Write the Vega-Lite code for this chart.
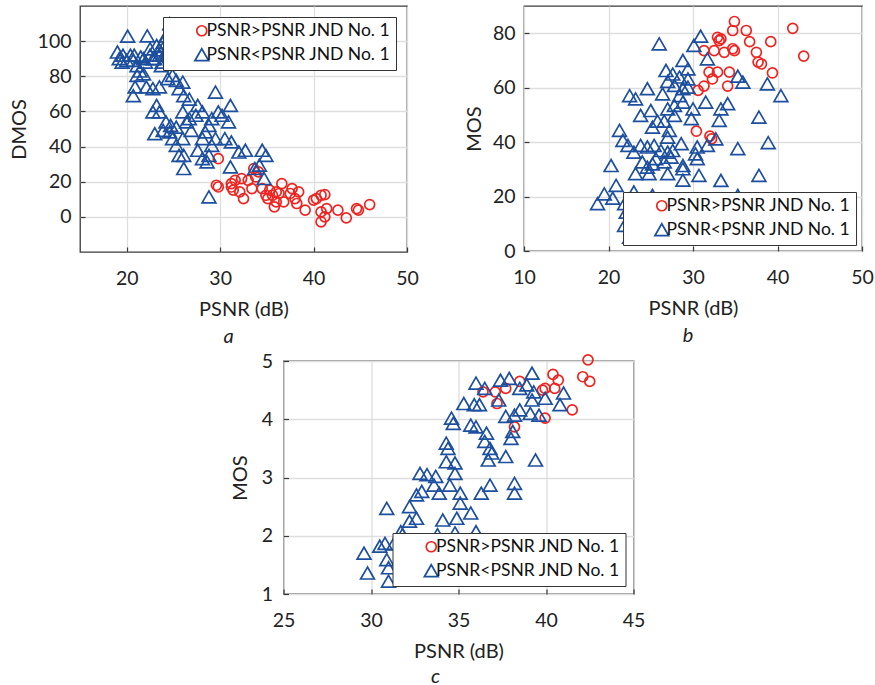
{
  "$schema": "https://vega.github.io/schema/vega-lite/v6.json",
  "padding": {"left": 8, "top": 5, "right": 5, "bottom": 0},
  "background": "white",
  "datasets": {
    "panelA": [
      {"psnr": 29.8, "score": 33.1, "group": "PSNR>PSNR JND No. 1"},
      {"psnr": 29.6, "score": 18, "group": "PSNR>PSNR JND No. 1"},
      {"psnr": 29.8, "score": 17, "group": "PSNR>PSNR JND No. 1"},
      {"psnr": 31.2, "score": 18.9, "group": "PSNR>PSNR JND No. 1"},
      {"psnr": 31.4, "score": 15.2, "group": "PSNR>PSNR JND No. 1"},
      {"psnr": 31.6, "score": 20.8, "group": "PSNR>PSNR JND No. 1"},
      {"psnr": 32.3, "score": 21.8, "group": "PSNR>PSNR JND No. 1"},
      {"psnr": 32.5, "score": 10.4, "group": "PSNR>PSNR JND No. 1"},
      {"psnr": 32.1, "score": 14.2, "group": "PSNR>PSNR JND No. 1"},
      {"psnr": 33.0, "score": 20.8, "group": "PSNR>PSNR JND No. 1"},
      {"psnr": 33.4, "score": 16.1, "group": "PSNR>PSNR JND No. 1"},
      {"psnr": 33.6, "score": 27.5, "group": "PSNR>PSNR JND No. 1"},
      {"psnr": 34.1, "score": 25.6, "group": "PSNR>PSNR JND No. 1"},
      {"psnr": 34.5, "score": 16.1, "group": "PSNR>PSNR JND No. 1"},
      {"psnr": 34.9, "score": 12.3, "group": "PSNR>PSNR JND No. 1"},
      {"psnr": 35.1, "score": 10.4, "group": "PSNR>PSNR JND No. 1"},
      {"psnr": 35.3, "score": 15.2, "group": "PSNR>PSNR JND No. 1"},
      {"psnr": 35.6, "score": 12.3, "group": "PSNR>PSNR JND No. 1"},
      {"psnr": 35.8, "score": 5.7, "group": "PSNR>PSNR JND No. 1"},
      {"psnr": 36.0, "score": 8.5, "group": "PSNR>PSNR JND No. 1"},
      {"psnr": 36.3, "score": 13.3, "group": "PSNR>PSNR JND No. 1"},
      {"psnr": 36.6, "score": 18.9, "group": "PSNR>PSNR JND No. 1"},
      {"psnr": 36.8, "score": 8.5, "group": "PSNR>PSNR JND No. 1"},
      {"psnr": 37.5, "score": 13.3, "group": "PSNR>PSNR JND No. 1"},
      {"psnr": 38.0, "score": 10.4, "group": "PSNR>PSNR JND No. 1"},
      {"psnr": 38.2, "score": 7.6, "group": "PSNR>PSNR JND No. 1"},
      {"psnr": 38.4, "score": 14.2, "group": "PSNR>PSNR JND No. 1"},
      {"psnr": 39.1, "score": 3.8, "group": "PSNR>PSNR JND No. 1"},
      {"psnr": 40.0, "score": 9.5, "group": "PSNR>PSNR JND No. 1"},
      {"psnr": 40.3, "score": 10.4, "group": "PSNR>PSNR JND No. 1"},
      {"psnr": 40.8, "score": 12.3, "group": "PSNR>PSNR JND No. 1"},
      {"psnr": 41.2, "score": 12.7, "group": "PSNR>PSNR JND No. 1"},
      {"psnr": 40.8, "score": 2.8, "group": "PSNR>PSNR JND No. 1"},
      {"psnr": 40.8, "score": -2.8, "group": "PSNR>PSNR JND No. 1"},
      {"psnr": 41.2, "score": 0, "group": "PSNR>PSNR JND No. 1"},
      {"psnr": 41.4, "score": 4.7, "group": "PSNR>PSNR JND No. 1"},
      {"psnr": 42.6, "score": 3.8, "group": "PSNR>PSNR JND No. 1"},
      {"psnr": 43.5, "score": -0.6, "group": "PSNR>PSNR JND No. 1"},
      {"psnr": 44.6, "score": 4.7, "group": "PSNR>PSNR JND No. 1"},
      {"psnr": 44.8, "score": 3.8, "group": "PSNR>PSNR JND No. 1"},
      {"psnr": 46.0, "score": 7, "group": "PSNR>PSNR JND No. 1"},
      {"psnr": 37.7, "score": 16.1, "group": "PSNR>PSNR JND No. 1"},
      {"psnr": 36.0, "score": 14.2, "group": "PSNR>PSNR JND No. 1"},
      {"psnr": 31.2, "score": 17, "group": "PSNR>PSNR JND No. 1"},
      {"psnr": 33.8, "score": 22.7, "group": "PSNR>PSNR JND No. 1"},
      {"psnr": 20.1, "score": 102.8, "group": "PSNR<PSNR JND No. 1"},
      {"psnr": 22.2, "score": 103, "group": "PSNR<PSNR JND No. 1"},
      {"psnr": 24.6, "score": 110, "group": "PSNR<PSNR JND No. 1"},
      {"psnr": 19.0, "score": 93.8, "group": "PSNR<PSNR JND No. 1"},
      {"psnr": 19.2, "score": 90, "group": "PSNR<PSNR JND No. 1"},
      {"psnr": 19.6, "score": 92, "group": "PSNR<PSNR JND No. 1"},
      {"psnr": 20.4, "score": 92, "group": "PSNR<PSNR JND No. 1"},
      {"psnr": 20.7, "score": 89, "group": "PSNR<PSNR JND No. 1"},
      {"psnr": 21.1, "score": 86, "group": "PSNR<PSNR JND No. 1"},
      {"psnr": 21.4, "score": 83, "group": "PSNR<PSNR JND No. 1"},
      {"psnr": 21.8, "score": 90, "group": "PSNR<PSNR JND No. 1"},
      {"psnr": 22.5, "score": 95.6, "group": "PSNR<PSNR JND No. 1"},
      {"psnr": 23.2, "score": 97.5, "group": "PSNR<PSNR JND No. 1"},
      {"psnr": 23.9, "score": 99.4, "group": "PSNR<PSNR JND No. 1"},
      {"psnr": 24.2, "score": 103, "group": "PSNR<PSNR JND No. 1"},
      {"psnr": 23.5, "score": 92, "group": "PSNR<PSNR JND No. 1"},
      {"psnr": 22.8, "score": 90, "group": "PSNR<PSNR JND No. 1"},
      {"psnr": 24.2, "score": 93.8, "group": "PSNR<PSNR JND No. 1"},
      {"psnr": 24.6, "score": 95.6, "group": "PSNR<PSNR JND No. 1"},
      {"psnr": 23.7, "score": 86, "group": "PSNR<PSNR JND No. 1"},
      {"psnr": 23.0, "score": 90, "group": "PSNR<PSNR JND No. 1"},
      {"psnr": 23.5, "score": 95, "group": "PSNR<PSNR JND No. 1"},
      {"psnr": 24.0, "score": 97, "group": "PSNR<PSNR JND No. 1"},
      {"psnr": 24.5, "score": 92, "group": "PSNR<PSNR JND No. 1"},
      {"psnr": 22.5, "score": 92, "group": "PSNR<PSNR JND No. 1"},
      {"psnr": 23.8, "score": 88, "group": "PSNR<PSNR JND No. 1"},
      {"psnr": 24.9, "score": 100, "group": "PSNR<PSNR JND No. 1"},
      {"psnr": 22.0, "score": 88, "group": "PSNR<PSNR JND No. 1"},
      {"psnr": 21.5, "score": 91, "group": "PSNR<PSNR JND No. 1"},
      {"psnr": 20.0, "score": 89, "group": "PSNR<PSNR JND No. 1"},
      {"psnr": 19.5, "score": 88, "group": "PSNR<PSNR JND No. 1"},
      {"psnr": 20.8, "score": 92, "group": "PSNR<PSNR JND No. 1"},
      {"psnr": 21.1, "score": 80.5, "group": "PSNR<PSNR JND No. 1"},
      {"psnr": 21.8, "score": 81.4, "group": "PSNR<PSNR JND No. 1"},
      {"psnr": 20.9, "score": 73.9, "group": "PSNR<PSNR JND No. 1"},
      {"psnr": 20.7, "score": 69, "group": "PSNR<PSNR JND No. 1"},
      {"psnr": 22.1, "score": 73.9, "group": "PSNR<PSNR JND No. 1"},
      {"psnr": 22.8, "score": 73, "group": "PSNR<PSNR JND No. 1"},
      {"psnr": 23.5, "score": 74, "group": "PSNR<PSNR JND No. 1"},
      {"psnr": 24.4, "score": 78.6, "group": "PSNR<PSNR JND No. 1"},
      {"psnr": 24.9, "score": 80.5, "group": "PSNR<PSNR JND No. 1"},
      {"psnr": 25.3, "score": 77.7, "group": "PSNR<PSNR JND No. 1"},
      {"psnr": 26.0, "score": 76.7, "group": "PSNR<PSNR JND No. 1"},
      {"psnr": 25.6, "score": 73, "group": "PSNR<PSNR JND No. 1"},
      {"psnr": 26.1, "score": 69, "group": "PSNR<PSNR JND No. 1"},
      {"psnr": 26.7, "score": 67, "group": "PSNR<PSNR JND No. 1"},
      {"psnr": 29.5, "score": 71, "group": "PSNR<PSNR JND No. 1"},
      {"psnr": 27.6, "score": 63.4, "group": "PSNR<PSNR JND No. 1"},
      {"psnr": 28.1, "score": 59.7, "group": "PSNR<PSNR JND No. 1"},
      {"psnr": 27.4, "score": 57.8, "group": "PSNR<PSNR JND No. 1"},
      {"psnr": 26.0, "score": 59.7, "group": "PSNR<PSNR JND No. 1"},
      {"psnr": 26.4, "score": 54, "group": "PSNR<PSNR JND No. 1"},
      {"psnr": 25.3, "score": 51, "group": "PSNR<PSNR JND No. 1"},
      {"psnr": 24.7, "score": 52, "group": "PSNR<PSNR JND No. 1"},
      {"psnr": 24.6, "score": 48.3, "group": "PSNR<PSNR JND No. 1"},
      {"psnr": 24.9, "score": 44.5, "group": "PSNR<PSNR JND No. 1"},
      {"psnr": 25.3, "score": 40.7, "group": "PSNR<PSNR JND No. 1"},
      {"psnr": 26.0, "score": 44.5, "group": "PSNR<PSNR JND No. 1"},
      {"psnr": 22.8, "score": 59.7, "group": "PSNR<PSNR JND No. 1"},
      {"psnr": 23.2, "score": 63.4, "group": "PSNR<PSNR JND No. 1"},
      {"psnr": 23.5, "score": 59.7, "group": "PSNR<PSNR JND No. 1"},
      {"psnr": 23.0, "score": 47.3, "group": "PSNR<PSNR JND No. 1"},
      {"psnr": 23.9, "score": 49.2, "group": "PSNR<PSNR JND No. 1"},
      {"psnr": 24.2, "score": 54, "group": "PSNR<PSNR JND No. 1"},
      {"psnr": 25.6, "score": 35, "group": "PSNR<PSNR JND No. 1"},
      {"psnr": 26.1, "score": 35, "group": "PSNR<PSNR JND No. 1"},
      {"psnr": 26.1, "score": 27.5, "group": "PSNR<PSNR JND No. 1"},
      {"psnr": 27.6, "score": 37.9, "group": "PSNR<PSNR JND No. 1"},
      {"psnr": 28.1, "score": 33.1, "group": "PSNR<PSNR JND No. 1"},
      {"psnr": 28.6, "score": 31.3, "group": "PSNR<PSNR JND No. 1"},
      {"psnr": 28.8, "score": 35, "group": "PSNR<PSNR JND No. 1"},
      {"psnr": 29.1, "score": 40.7, "group": "PSNR<PSNR JND No. 1"},
      {"psnr": 29.5, "score": 44.5, "group": "PSNR<PSNR JND No. 1"},
      {"psnr": 28.4, "score": 48.3, "group": "PSNR<PSNR JND No. 1"},
      {"psnr": 28.8, "score": 52, "group": "PSNR<PSNR JND No. 1"},
      {"psnr": 29.1, "score": 55.9, "group": "PSNR<PSNR JND No. 1"},
      {"psnr": 29.8, "score": 59.7, "group": "PSNR<PSNR JND No. 1"},
      {"psnr": 30.2, "score": 57.8, "group": "PSNR<PSNR JND No. 1"},
      {"psnr": 30.9, "score": 54, "group": "PSNR<PSNR JND No. 1"},
      {"psnr": 31.1, "score": 63.4, "group": "PSNR<PSNR JND No. 1"},
      {"psnr": 30.5, "score": 44.5, "group": "PSNR<PSNR JND No. 1"},
      {"psnr": 31.2, "score": 42.6, "group": "PSNR<PSNR JND No. 1"},
      {"psnr": 28.8, "score": 11.4, "group": "PSNR<PSNR JND No. 1"},
      {"psnr": 31.1, "score": 28.4, "group": "PSNR<PSNR JND No. 1"},
      {"psnr": 32.0, "score": 36.9, "group": "PSNR<PSNR JND No. 1"},
      {"psnr": 32.7, "score": 37.9, "group": "PSNR<PSNR JND No. 1"},
      {"psnr": 33.7, "score": 27.5, "group": "PSNR<PSNR JND No. 1"},
      {"psnr": 34.5, "score": 37.9, "group": "PSNR<PSNR JND No. 1"},
      {"psnr": 34.9, "score": 35, "group": "PSNR<PSNR JND No. 1"},
      {"psnr": 34.7, "score": 21.8, "group": "PSNR<PSNR JND No. 1"},
      {"psnr": 34.2, "score": 29.4, "group": "PSNR<PSNR JND No. 1"},
      {"psnr": 28.1, "score": 44.5, "group": "PSNR<PSNR JND No. 1"},
      {"psnr": 26.7, "score": 55.9, "group": "PSNR<PSNR JND No. 1"},
      {"psnr": 26.9, "score": 49.2, "group": "PSNR<PSNR JND No. 1"}
    ],
    "panelB": [
      {"psnr": 34.9, "score": 84.3, "group": "PSNR>PSNR JND No. 1"},
      {"psnr": 34.7, "score": 81, "group": "PSNR>PSNR JND No. 1"},
      {"psnr": 36.3, "score": 81, "group": "PSNR>PSNR JND No. 1"},
      {"psnr": 36.7, "score": 76.9, "group": "PSNR>PSNR JND No. 1"},
      {"psnr": 41.8, "score": 81.8, "group": "PSNR>PSNR JND No. 1"},
      {"psnr": 39.2, "score": 76.9, "group": "PSNR>PSNR JND No. 1"},
      {"psnr": 43.1, "score": 71.6, "group": "PSNR>PSNR JND No. 1"},
      {"psnr": 32.9, "score": 78.5, "group": "PSNR>PSNR JND No. 1"},
      {"psnr": 33.3, "score": 77.9, "group": "PSNR>PSNR JND No. 1"},
      {"psnr": 33.1, "score": 77.3, "group": "PSNR>PSNR JND No. 1"},
      {"psnr": 31.3, "score": 73.6, "group": "PSNR>PSNR JND No. 1"},
      {"psnr": 32.5, "score": 73.6, "group": "PSNR>PSNR JND No. 1"},
      {"psnr": 33.7, "score": 73, "group": "PSNR>PSNR JND No. 1"},
      {"psnr": 34.7, "score": 74.3, "group": "PSNR>PSNR JND No. 1"},
      {"psnr": 34.9, "score": 73.6, "group": "PSNR>PSNR JND No. 1"},
      {"psnr": 37.5, "score": 73, "group": "PSNR>PSNR JND No. 1"},
      {"psnr": 37.7, "score": 69.4, "group": "PSNR>PSNR JND No. 1"},
      {"psnr": 38.1, "score": 68.7, "group": "PSNR>PSNR JND No. 1"},
      {"psnr": 39.4, "score": 65.4, "group": "PSNR>PSNR JND No. 1"},
      {"psnr": 31.9, "score": 65.7, "group": "PSNR>PSNR JND No. 1"},
      {"psnr": 32.9, "score": 65.7, "group": "PSNR>PSNR JND No. 1"},
      {"psnr": 34.3, "score": 65.7, "group": "PSNR>PSNR JND No. 1"},
      {"psnr": 32.3, "score": 63.2, "group": "PSNR>PSNR JND No. 1"},
      {"psnr": 31.3, "score": 60.6, "group": "PSNR>PSNR JND No. 1"},
      {"psnr": 30.6, "score": 59, "group": "PSNR>PSNR JND No. 1"},
      {"psnr": 34.1, "score": 60.6, "group": "PSNR>PSNR JND No. 1"},
      {"psnr": 30.4, "score": 44, "group": "PSNR>PSNR JND No. 1"},
      {"psnr": 32.0, "score": 42.2, "group": "PSNR>PSNR JND No. 1"},
      {"psnr": 32.2, "score": 41.2, "group": "PSNR>PSNR JND No. 1"},
      {"psnr": 26.0, "score": 76.1, "group": "PSNR<PSNR JND No. 1"},
      {"psnr": 30.9, "score": 78.9, "group": "PSNR<PSNR JND No. 1"},
      {"psnr": 30.1, "score": 75.5, "group": "PSNR<PSNR JND No. 1"},
      {"psnr": 31.7, "score": 70.6, "group": "PSNR<PSNR JND No. 1"},
      {"psnr": 28.8, "score": 70, "group": "PSNR<PSNR JND No. 1"},
      {"psnr": 26.8, "score": 66.3, "group": "PSNR<PSNR JND No. 1"},
      {"psnr": 27.6, "score": 65, "group": "PSNR<PSNR JND No. 1"},
      {"psnr": 29.4, "score": 66.9, "group": "PSNR<PSNR JND No. 1"},
      {"psnr": 28.4, "score": 63.9, "group": "PSNR<PSNR JND No. 1"},
      {"psnr": 27.0, "score": 62.3, "group": "PSNR<PSNR JND No. 1"},
      {"psnr": 27.8, "score": 60.8, "group": "PSNR<PSNR JND No. 1"},
      {"psnr": 29.4, "score": 63.2, "group": "PSNR<PSNR JND No. 1"},
      {"psnr": 26.4, "score": 57.7, "group": "PSNR<PSNR JND No. 1"},
      {"psnr": 24.6, "score": 59.6, "group": "PSNR<PSNR JND No. 1"},
      {"psnr": 22.5, "score": 57.1, "group": "PSNR<PSNR JND No. 1"},
      {"psnr": 23.2, "score": 55.9, "group": "PSNR<PSNR JND No. 1"},
      {"psnr": 23.8, "score": 49.8, "group": "PSNR<PSNR JND No. 1"},
      {"psnr": 25.0, "score": 51.6, "group": "PSNR<PSNR JND No. 1"},
      {"psnr": 25.2, "score": 45.5, "group": "PSNR<PSNR JND No. 1"},
      {"psnr": 27.0, "score": 52.2, "group": "PSNR<PSNR JND No. 1"},
      {"psnr": 27.8, "score": 49.8, "group": "PSNR<PSNR JND No. 1"},
      {"psnr": 28.8, "score": 54.7, "group": "PSNR<PSNR JND No. 1"},
      {"psnr": 30.0, "score": 52.2, "group": "PSNR<PSNR JND No. 1"},
      {"psnr": 29.8, "score": 48.6, "group": "PSNR<PSNR JND No. 1"},
      {"psnr": 31.5, "score": 54.7, "group": "PSNR<PSNR JND No. 1"},
      {"psnr": 33.3, "score": 52.2, "group": "PSNR<PSNR JND No. 1"},
      {"psnr": 34.1, "score": 54.1, "group": "PSNR<PSNR JND No. 1"},
      {"psnr": 33.1, "score": 48, "group": "PSNR<PSNR JND No. 1"},
      {"psnr": 35.3, "score": 64.2, "group": "PSNR<PSNR JND No. 1"},
      {"psnr": 35.9, "score": 62, "group": "PSNR<PSNR JND No. 1"},
      {"psnr": 38.8, "score": 61.4, "group": "PSNR<PSNR JND No. 1"},
      {"psnr": 40.4, "score": 57.1, "group": "PSNR<PSNR JND No. 1"},
      {"psnr": 37.8, "score": 49.2, "group": "PSNR<PSNR JND No. 1"},
      {"psnr": 38.9, "score": 39.8, "group": "PSNR<PSNR JND No. 1"},
      {"psnr": 35.3, "score": 37.6, "group": "PSNR<PSNR JND No. 1"},
      {"psnr": 37.8, "score": 27.8, "group": "PSNR<PSNR JND No. 1"},
      {"psnr": 33.3, "score": 25.9, "group": "PSNR<PSNR JND No. 1"},
      {"psnr": 30.7, "score": 27.8, "group": "PSNR<PSNR JND No. 1"},
      {"psnr": 32.7, "score": 41.2, "group": "PSNR<PSNR JND No. 1"},
      {"psnr": 31.7, "score": 38.8, "group": "PSNR<PSNR JND No. 1"},
      {"psnr": 30.5, "score": 38.2, "group": "PSNR<PSNR JND No. 1"},
      {"psnr": 30.3, "score": 35.7, "group": "PSNR<PSNR JND No. 1"},
      {"psnr": 30.5, "score": 33.9, "group": "PSNR<PSNR JND No. 1"},
      {"psnr": 28.8, "score": 31.4, "group": "PSNR<PSNR JND No. 1"},
      {"psnr": 28.8, "score": 30.2, "group": "PSNR<PSNR JND No. 1"},
      {"psnr": 28.8, "score": 26, "group": "PSNR<PSNR JND No. 1"},
      {"psnr": 27.0, "score": 28.4, "group": "PSNR<PSNR JND No. 1"},
      {"psnr": 28.6, "score": 39.4, "group": "PSNR<PSNR JND No. 1"},
      {"psnr": 27.0, "score": 41.8, "group": "PSNR<PSNR JND No. 1"},
      {"psnr": 27.6, "score": 36.9, "group": "PSNR<PSNR JND No. 1"},
      {"psnr": 26.2, "score": 36.9, "group": "PSNR<PSNR JND No. 1"},
      {"psnr": 25.4, "score": 38.8, "group": "PSNR<PSNR JND No. 1"},
      {"psnr": 24.6, "score": 38.2, "group": "PSNR<PSNR JND No. 1"},
      {"psnr": 23.8, "score": 38.8, "group": "PSNR<PSNR JND No. 1"},
      {"psnr": 23.0, "score": 36.3, "group": "PSNR<PSNR JND No. 1"},
      {"psnr": 24.0, "score": 32.7, "group": "PSNR<PSNR JND No. 1"},
      {"psnr": 24.6, "score": 30.8, "group": "PSNR<PSNR JND No. 1"},
      {"psnr": 24.8, "score": 28.4, "group": "PSNR<PSNR JND No. 1"},
      {"psnr": 25.2, "score": 32, "group": "PSNR<PSNR JND No. 1"},
      {"psnr": 25.6, "score": 33.9, "group": "PSNR<PSNR JND No. 1"},
      {"psnr": 26.6, "score": 32.7, "group": "PSNR<PSNR JND No. 1"},
      {"psnr": 23.2, "score": 28.4, "group": "PSNR<PSNR JND No. 1"},
      {"psnr": 23.0, "score": 21.7, "group": "PSNR<PSNR JND No. 1"},
      {"psnr": 21.3, "score": 44.3, "group": "PSNR<PSNR JND No. 1"},
      {"psnr": 21.7, "score": 40.6, "group": "PSNR<PSNR JND No. 1"},
      {"psnr": 22.3, "score": 38.8, "group": "PSNR<PSNR JND No. 1"},
      {"psnr": 20.3, "score": 31.4, "group": "PSNR<PSNR JND No. 1"},
      {"psnr": 20.9, "score": 24.1, "group": "PSNR<PSNR JND No. 1"},
      {"psnr": 19.5, "score": 21, "group": "PSNR<PSNR JND No. 1"},
      {"psnr": 18.7, "score": 17.4, "group": "PSNR<PSNR JND No. 1"},
      {"psnr": 20.5, "score": 19.4, "group": "PSNR<PSNR JND No. 1"},
      {"psnr": 21.9, "score": 17.4, "group": "PSNR<PSNR JND No. 1"},
      {"psnr": 22.1, "score": 14.3, "group": "PSNR<PSNR JND No. 1"},
      {"psnr": 21.9, "score": 9.4, "group": "PSNR<PSNR JND No. 1"},
      {"psnr": 22.5, "score": 5.1, "group": "PSNR<PSNR JND No. 1"},
      {"psnr": 25.2, "score": 20.4, "group": "PSNR<PSNR JND No. 1"},
      {"psnr": 35.3, "score": 20.4, "group": "PSNR<PSNR JND No. 1"},
      {"psnr": 25.8, "score": 47.7, "group": "PSNR<PSNR JND No. 1"},
      {"psnr": 26.6, "score": 47.7, "group": "PSNR<PSNR JND No. 1"},
      {"psnr": 27.8, "score": 53.5, "group": "PSNR<PSNR JND No. 1"},
      {"psnr": 28.4, "score": 57.1, "group": "PSNR<PSNR JND No. 1"},
      {"psnr": 28.8, "score": 59.6, "group": "PSNR<PSNR JND No. 1"},
      {"psnr": 29.4, "score": 60.2, "group": "PSNR<PSNR JND No. 1"},
      {"psnr": 27.2, "score": 44.3, "group": "PSNR<PSNR JND No. 1"},
      {"psnr": 27.0, "score": 36.3, "group": "PSNR<PSNR JND No. 1"},
      {"psnr": 27.4, "score": 34.5, "group": "PSNR<PSNR JND No. 1"}
    ],
    "panelC": [
      {"psnr": 42.4, "score": 5.02, "group": "PSNR>PSNR JND No. 1"},
      {"psnr": 42.1, "score": 4.73, "group": "PSNR>PSNR JND No. 1"},
      {"psnr": 42.5, "score": 4.65, "group": "PSNR>PSNR JND No. 1"},
      {"psnr": 40.4, "score": 4.77, "group": "PSNR>PSNR JND No. 1"},
      {"psnr": 40.7, "score": 4.67, "group": "PSNR>PSNR JND No. 1"},
      {"psnr": 40.5, "score": 4.53, "group": "PSNR>PSNR JND No. 1"},
      {"psnr": 39.95, "score": 4.53, "group": "PSNR>PSNR JND No. 1"},
      {"psnr": 39.8, "score": 4.5, "group": "PSNR>PSNR JND No. 1"},
      {"psnr": 38.5, "score": 4.65, "group": "PSNR>PSNR JND No. 1"},
      {"psnr": 37.7, "score": 4.53, "group": "PSNR>PSNR JND No. 1"},
      {"psnr": 37.1, "score": 4.47, "group": "PSNR>PSNR JND No. 1"},
      {"psnr": 36.4, "score": 4.47, "group": "PSNR>PSNR JND No. 1"},
      {"psnr": 37.2, "score": 4.27, "group": "PSNR>PSNR JND No. 1"},
      {"psnr": 39.95, "score": 4.02, "group": "PSNR>PSNR JND No. 1"},
      {"psnr": 38.2, "score": 3.87, "group": "PSNR>PSNR JND No. 1"},
      {"psnr": 41.5, "score": 4.16, "group": "PSNR>PSNR JND No. 1"},
      {"psnr": 36.0, "score": 4.62, "group": "PSNR<PSNR JND No. 1"},
      {"psnr": 36.5, "score": 4.53, "group": "PSNR<PSNR JND No. 1"},
      {"psnr": 37.4, "score": 4.67, "group": "PSNR<PSNR JND No. 1"},
      {"psnr": 37.9, "score": 4.7, "group": "PSNR<PSNR JND No. 1"},
      {"psnr": 39.2, "score": 4.79, "group": "PSNR<PSNR JND No. 1"},
      {"psnr": 38.9, "score": 4.59, "group": "PSNR<PSNR JND No. 1"},
      {"psnr": 38.5, "score": 4.53, "group": "PSNR<PSNR JND No. 1"},
      {"psnr": 39.3, "score": 4.47, "group": "PSNR<PSNR JND No. 1"},
      {"psnr": 39.2, "score": 4.33, "group": "PSNR<PSNR JND No. 1"},
      {"psnr": 39.95, "score": 4.36, "group": "PSNR<PSNR JND No. 1"},
      {"psnr": 41.0, "score": 4.45, "group": "PSNR<PSNR JND No. 1"},
      {"psnr": 40.8, "score": 4.25, "group": "PSNR<PSNR JND No. 1"},
      {"psnr": 39.6, "score": 4.07, "group": "PSNR<PSNR JND No. 1"},
      {"psnr": 39.1, "score": 4.1, "group": "PSNR<PSNR JND No. 1"},
      {"psnr": 38.5, "score": 4.16, "group": "PSNR<PSNR JND No. 1"},
      {"psnr": 38.2, "score": 4.07, "group": "PSNR<PSNR JND No. 1"},
      {"psnr": 37.7, "score": 4.05, "group": "PSNR<PSNR JND No. 1"},
      {"psnr": 37.3, "score": 4.33, "group": "PSNR<PSNR JND No. 1"},
      {"psnr": 35.3, "score": 4.27, "group": "PSNR<PSNR JND No. 1"},
      {"psnr": 35.9, "score": 4.25, "group": "PSNR<PSNR JND No. 1"},
      {"psnr": 36.2, "score": 4.25, "group": "PSNR<PSNR JND No. 1"},
      {"psnr": 34.6, "score": 4.02, "group": "PSNR<PSNR JND No. 1"},
      {"psnr": 34.7, "score": 3.93, "group": "PSNR<PSNR JND No. 1"},
      {"psnr": 35.7, "score": 3.9, "group": "PSNR<PSNR JND No. 1"},
      {"psnr": 36.0, "score": 3.87, "group": "PSNR<PSNR JND No. 1"},
      {"psnr": 36.6, "score": 3.76, "group": "PSNR<PSNR JND No. 1"},
      {"psnr": 36.5, "score": 3.62, "group": "PSNR<PSNR JND No. 1"},
      {"psnr": 36.8, "score": 3.5, "group": "PSNR<PSNR JND No. 1"},
      {"psnr": 36.9, "score": 3.42, "group": "PSNR<PSNR JND No. 1"},
      {"psnr": 36.7, "score": 3.3, "group": "PSNR<PSNR JND No. 1"},
      {"psnr": 37.7, "score": 3.36, "group": "PSNR<PSNR JND No. 1"},
      {"psnr": 38.0, "score": 3.67, "group": "PSNR<PSNR JND No. 1"},
      {"psnr": 38.1, "score": 3.79, "group": "PSNR<PSNR JND No. 1"},
      {"psnr": 39.4, "score": 3.3, "group": "PSNR<PSNR JND No. 1"},
      {"psnr": 38.2, "score": 2.9, "group": "PSNR<PSNR JND No. 1"},
      {"psnr": 38.2, "score": 2.73, "group": "PSNR<PSNR JND No. 1"},
      {"psnr": 36.8, "score": 2.87, "group": "PSNR<PSNR JND No. 1"},
      {"psnr": 36.3, "score": 2.73, "group": "PSNR<PSNR JND No. 1"},
      {"psnr": 34.3, "score": 3.59, "group": "PSNR<PSNR JND No. 1"},
      {"psnr": 34.4, "score": 3.5, "group": "PSNR<PSNR JND No. 1"},
      {"psnr": 34.3, "score": 3.27, "group": "PSNR<PSNR JND No. 1"},
      {"psnr": 34.8, "score": 3.25, "group": "PSNR<PSNR JND No. 1"},
      {"psnr": 34.8, "score": 3.07, "group": "PSNR<PSNR JND No. 1"},
      {"psnr": 34.5, "score": 2.87, "group": "PSNR<PSNR JND No. 1"},
      {"psnr": 33.9, "score": 2.73, "group": "PSNR<PSNR JND No. 1"},
      {"psnr": 33.6, "score": 2.87, "group": "PSNR<PSNR JND No. 1"},
      {"psnr": 33.2, "score": 3.05, "group": "PSNR<PSNR JND No. 1"},
      {"psnr": 32.8, "score": 3.07, "group": "PSNR<PSNR JND No. 1"},
      {"psnr": 33.7, "score": 3.02, "group": "PSNR<PSNR JND No. 1"},
      {"psnr": 32.9, "score": 2.76, "group": "PSNR<PSNR JND No. 1"},
      {"psnr": 32.6, "score": 2.7, "group": "PSNR<PSNR JND No. 1"},
      {"psnr": 32.2, "score": 2.5, "group": "PSNR<PSNR JND No. 1"},
      {"psnr": 32.6, "score": 2.3, "group": "PSNR<PSNR JND No. 1"},
      {"psnr": 32.2, "score": 2.25, "group": "PSNR<PSNR JND No. 1"},
      {"psnr": 31.7, "score": 2.07, "group": "PSNR<PSNR JND No. 1"},
      {"psnr": 31.8, "score": 2.02, "group": "PSNR<PSNR JND No. 1"},
      {"psnr": 30.9, "score": 2.47, "group": "PSNR<PSNR JND No. 1"},
      {"psnr": 30.5, "score": 1.82, "group": "PSNR<PSNR JND No. 1"},
      {"psnr": 30.8, "score": 1.87, "group": "PSNR<PSNR JND No. 1"},
      {"psnr": 31.3, "score": 1.86, "group": "PSNR<PSNR JND No. 1"},
      {"psnr": 29.6, "score": 1.7, "group": "PSNR<PSNR JND No. 1"},
      {"psnr": 29.8, "score": 1.36, "group": "PSNR<PSNR JND No. 1"},
      {"psnr": 30.9, "score": 1.59, "group": "PSNR<PSNR JND No. 1"},
      {"psnr": 31.0, "score": 1.45, "group": "PSNR<PSNR JND No. 1"},
      {"psnr": 31.0, "score": 1.22, "group": "PSNR<PSNR JND No. 1"},
      {"psnr": 35.1, "score": 2.73, "group": "PSNR<PSNR JND No. 1"},
      {"psnr": 35.1, "score": 2.56, "group": "PSNR<PSNR JND No. 1"},
      {"psnr": 35.7, "score": 2.39, "group": "PSNR<PSNR JND No. 1"},
      {"psnr": 34.9, "score": 2.3, "group": "PSNR<PSNR JND No. 1"},
      {"psnr": 34.1, "score": 2.27, "group": "PSNR<PSNR JND No. 1"},
      {"psnr": 33.8, "score": 2.02, "group": "PSNR<PSNR JND No. 1"},
      {"psnr": 34.8, "score": 2.05, "group": "PSNR<PSNR JND No. 1"},
      {"psnr": 36.0, "score": 2.07, "group": "PSNR<PSNR JND No. 1"}
    ]
  },
  "config": {
    "font": "Lato",
    "view": {"stroke": "#3a3a3a", "strokeWidth": 1.3},
    "axis": {
      "grid": true, "gridColor": "#dedede", "gridWidth": 1.3,
      "domain": false, "ticks": true, "tickSize": -5, "tickColor": "#3a3a3a", "tickWidth": 1.2,
      "labelFont": "Lato", "labelFontSize": 19.5, "labelColor": "#222", "labelPadding": 22, "labelFlush": false, "labelOverlap": false,
      "titleFont": "Lato", "titleFontSize": 20, "titleFontWeight": "normal", "titleColor": "#222"
    },
    "axisY": {"labelPadding": 14, "titlePadding": 8},
    "axisX": {"titlePadding": 12},
    "legend": {
      "title": null, "padding": 5, "offset": 8,
      "strokeColor": "#333", "fillColor": "white", "cornerRadius": 0,
      "labelFont": "Lato", "labelFontSize": 17.5, "labelColor": "#111", "labelLimit": 400,
      "symbolOffset": 25, "labelOffset": -4, "rowPadding": 5, "symbolStrokeWidth": 1.7
    },
    "title": {"font": "Lato", "fontSize": 20, "fontStyle": "italic", "fontWeight": "normal", "color": "#222", "orient": "bottom", "anchor": "middle", "offset": 7}
  },
  "vconcat": [
    {
      "hconcat": [
        {
          "data": {"name": "panelA"},
          "width": 327, "height": 246,
          "title": {"text": "a", "dx": -15},
          "mark": {"type": "point", "filled": false, "strokeWidth": 1.7, "opacity": 1},
          "encoding": {
            "x": {"field": "psnr", "type": "quantitative", "scale": {"domain": [15, 50], "nice": false, "zero": false}, "axis": {"values": [20, 30, 40, 50], "title": "PSNR (dB)"}},
            "y": {"field": "score", "type": "quantitative", "scale": {"domain": [-20, 120], "nice": false, "zero": false}, "axis": {"values": [0, 20, 40, 60, 80, 100], "title": "DMOS"}},
            "color": {"field": "group", "type": "nominal", "scale": {"domain": ["PSNR>PSNR JND No. 1", "PSNR<PSNR JND No. 1"], "range": ["#ee2420", "#1d4f9f"]}, "legend": {"orient": "top-right", "offset": 11}},
            "shape": {"field": "group", "type": "nominal", "scale": {"domain": ["PSNR>PSNR JND No. 1", "PSNR<PSNR JND No. 1"], "range": ["circle", "triangle-up"]}, "legend": {"orient": "top-right", "offset": 11}},
            "size": {"field": "group", "type": "nominal", "scale": {"domain": ["PSNR>PSNR JND No. 1", "PSNR<PSNR JND No. 1"], "range": [100, 190]}, "legend": {"orient": "top-right", "offset": 11}}
          }
        },
        {
          "data": {"name": "panelB"},
          "width": 338, "height": 245,
          "title": {"text": "b", "dx": -5},
          "mark": {"type": "point", "filled": false, "strokeWidth": 1.7, "opacity": 1},
          "encoding": {
            "x": {"field": "psnr", "type": "quantitative", "scale": {"domain": [10, 50], "nice": false, "zero": false}, "axis": {"values": [10, 20, 30, 40, 50], "title": "PSNR (dB)"}},
            "y": {"field": "score", "type": "quantitative", "scale": {"domain": [0, 90], "nice": false, "zero": false}, "axis": {"values": [0, 20, 40, 60, 80], "title": "MOS"}},
            "color": {"field": "group", "type": "nominal", "scale": {"domain": ["PSNR>PSNR JND No. 1", "PSNR<PSNR JND No. 1"], "range": ["#ee2420", "#1d4f9f"]}, "legend": {"orient": "bottom-right", "offset": 6}},
            "shape": {"field": "group", "type": "nominal", "scale": {"domain": ["PSNR>PSNR JND No. 1", "PSNR<PSNR JND No. 1"], "range": ["circle", "triangle-up"]}, "legend": {"orient": "bottom-right", "offset": 6}},
            "size": {"field": "group", "type": "nominal", "scale": {"domain": ["PSNR>PSNR JND No. 1", "PSNR<PSNR JND No. 1"], "range": [100, 190]}, "legend": {"orient": "bottom-right", "offset": 6}}
          }
        }
      ],
      "spacing": 44,
      "resolve": {
        "scale": {"color": "independent", "shape": "independent", "size": "independent"},
        "legend": {"color": "independent", "shape": "independent", "size": "independent"}
      }
    },
    {
      "hconcat": [
        {
          "data": {"name": "panelC"},
          "width": 350, "height": 233,
          "title": {"text": "c", "dx": -23, "offset": 5},
          "mark": {"type": "point", "filled": false, "strokeWidth": 1.7, "opacity": 1},
          "encoding": {
            "x": {"field": "psnr", "type": "quantitative", "scale": {"domain": [25, 45], "nice": false, "zero": false}, "axis": {"values": [25, 30, 35, 40, 45], "title": "PSNR (dB)"}},
            "y": {"field": "score", "type": "quantitative", "scale": {"domain": [1, 5], "nice": false, "zero": false}, "axis": {"values": [1, 2, 3, 4, 5], "title": "MOS", "labelPadding": 16, "titlePadding": 11}},
            "color": {"field": "group", "type": "nominal", "scale": {"domain": ["PSNR>PSNR JND No. 1", "PSNR<PSNR JND No. 1"], "range": ["#ee2420", "#1d4f9f"]}, "legend": {"orient": "bottom-right", "offset": 8}},
            "shape": {"field": "group", "type": "nominal", "scale": {"domain": ["PSNR>PSNR JND No. 1", "PSNR<PSNR JND No. 1"], "range": ["circle", "triangle-up"]}, "legend": {"orient": "bottom-right", "offset": 8}},
            "size": {"field": "group", "type": "nominal", "scale": {"domain": ["PSNR>PSNR JND No. 1", "PSNR<PSNR JND No. 1"], "range": [100, 190]}, "legend": {"orient": "bottom-right", "offset": 8}}
          }
        },
        {
          "data": {"values": []},
          "width": 25, "height": 1,
          "view": {"stroke": null},
          "mark": {"type": "point", "opacity": 0},
          "encoding": {}
        }
      ],
      "spacing": 0,
      "resolve": {
        "scale": {"color": "independent", "shape": "independent", "size": "independent"},
        "legend": {"color": "independent", "shape": "independent", "size": "independent"}
      }
    }
  ],
  "spacing": 2,
  "center": true,
  "resolve": {
    "scale": {"color": "independent", "shape": "independent", "size": "independent"},
    "legend": {"color": "independent", "shape": "independent", "size": "independent"}
  }
}
